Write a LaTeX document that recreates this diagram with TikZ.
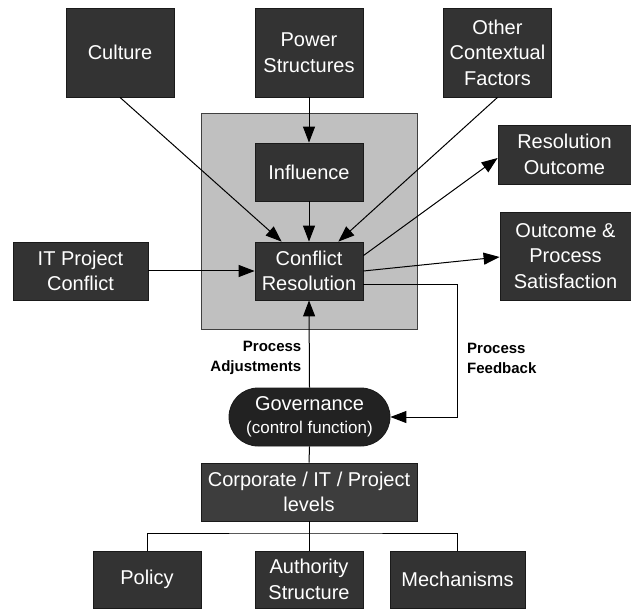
\documentclass[tikz,border=0pt]{standalone}
\usepackage{fontspec}
\setmainfont{Liberation Sans}
\usetikzlibrary{arrows.meta}
\definecolor{boxfill}{HTML}{333333}
\definecolor{boxline}{HTML}{1A1A1A}
\definecolor{govfill}{HTML}{222222}
\definecolor{panel}{HTML}{C0C0C0}
\tikzset{
  box/.style={draw=boxline, line width=0.8pt, fill=boxfill, text=white, align=center, inner sep=0pt,
    font=\fontsize{20}{25.5}\selectfont},
  arr/.style={draw=black, line width=1pt, -{Triangle[length=16pt,width=12pt]}},
  ln/.style={draw=black, line width=1pt},
  lbl/.style={font=\bfseries\fontsize{15}{20}\selectfont, align=right, inner sep=0pt}
}
\begin{document}
\begin{tikzpicture}[x=1pt,y=-1pt]
\useasboundingbox (0,0) rectangle (631,609);
\node[draw=black!75, line width=0.8pt, fill=panel, minimum width=216pt, minimum height=216pt, inner sep=0pt] (panel) at (309,221) {};
\node[box, minimum width=108pt, minimum height=89pt] (cult) at (120,52.5) {Culture};
\node[box, minimum width=108pt, minimum height=89pt] (pow) at (309,52.5) {Power\\Structures};
\node[box, minimum width=108pt, minimum height=89pt] (oth) at (497.5,52.5) {Other\\Contextual\\Factors};
\node[box, minimum width=108pt, minimum height=58pt] (inf) at (309,172) {Influence};
\node[box, minimum width=108pt, minimum height=58pt] (cr) at (309,271) {Conflict\\Resolution};
\node[box, minimum width=135pt, minimum height=58pt] (itp) at (80.5,271) {IT Project\\Conflict};
\node[box, minimum width=133pt, minimum height=59pt] (ro) at (564.5,154.5) {Resolution\\Outcome};
\node[box, minimum width=131pt, minimum height=88pt] (ops) at (565.5,256) {Outcome \&\\Process\\Satisfaction};
\node[box, fill=govfill, rounded corners=29pt, minimum width=161pt, minimum height=58pt] (gov) at (309.5,417)
  {Governance\\[-3pt]{\fontsize{17}{20}\selectfont(control function)}};
\node[box, fill=black!76, minimum width=216pt, minimum height=58pt] (corp) at (309,492) {Corporate / IT / Project\\levels};
\node[box, minimum width=108pt, minimum height=57pt] (pol) at (147,579.5) {Policy};
\node[box, minimum width=108pt, minimum height=57pt] (auth) at (309,579.5) {Authority\\Structure};
\node[box, minimum width=135pt, minimum height=57pt] (mech) at (457.5,579.5) {Mechanisms};
\node[lbl, anchor=east] (padj) at (301.5,358) {Process\\Adjustments};
\node[lbl, anchor=west, align=left] (pfb) at (467,358) {Process\\Feedback};
\coordinate (fbc) at (457.5,417);
\coordinate (jn) at (309,533);
% arrows
\draw[arr] (cult.south) -- ([xshift=27pt]cr.north west);
\draw[arr] (pow.south) -- (inf.north);
\draw[arr] (inf.south) -- (cr.north);
\draw[arr] (oth.south) -- ([xshift=-25pt]cr.north east);
\draw[arr] (itp.east) -- (cr.west);
\draw[arr] ([yshift=-14pt]cr.north east) -- ([yshift=-3.5pt]ro.west);
\draw[arr] (cr.east) -- ([yshift=-1pt]ops.west);
\draw[arr] ([yshift=-14pt]cr.east) -| (fbc) -- (gov.east);
\draw[arr] (gov.north) -- (cr.south);
\draw[ln] (gov.south) -- (corp.north);
\draw[ln] (corp.south) -- (auth.north);
\draw[ln] (pol.north) |- (jn) -| (mech.north);
\end{tikzpicture}
\end{document}
